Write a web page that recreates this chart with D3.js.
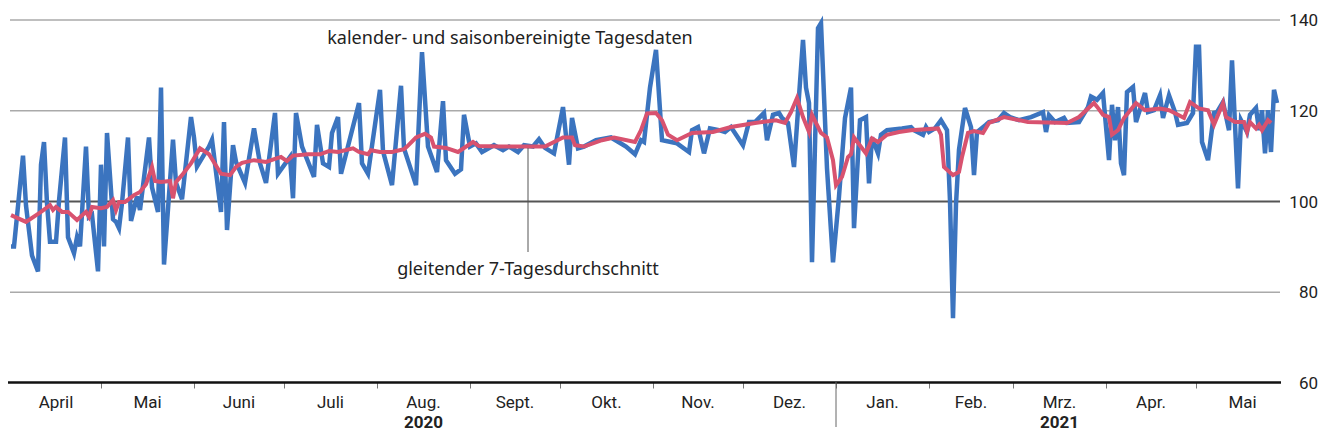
<!DOCTYPE html>
<html>
<head>
<meta charset="utf-8">
<title>Tagesdaten</title>
<script src="https://cdn.jsdelivr.net/npm/d3@7"></script>
<style>
  body { margin: 0; background: #fff; }
  svg { display: block; }
  .month, .yearlab, .ylab { font-family: "Liberation Sans Narrow", "Roboto", sans-serif; fill: #222; }
  .note { font-family: "Noto Sans", "Open Sans", sans-serif; fill: #222; }
</style>
</head>
<body>
<div id="chart"></div>
<script>
// daily series, day offset from 1 April 2020 (vertices)
var blueDay = [0,1,4,5,7,9,10,11,12,13,15,16,18,19,21,22,23,25,26,27,29,30,31,32,34,35,36,37,39,40,42,43,46,47,49,50,51,54,55,57,60,61,62,66,67,70,71,72,74,75,78,81,83,85,88,89,93,94,95,97,101,102,104,106,107,109,110,116,117,119,123,124,127,130,131,135,137,139,142,144,145,148,150,151,153,155,157,161,164,166,169,171,174,176,178,181,184,186,187,189,191,195,200,205,208,210,211,213,215,217,220,222,226,227,229,231,233,236,238,240,244,246,248,251,252,254,256,257,259,261,264,265,266,267,269,270,272,274,276,278,280,281,283,285,286,287,289,290,292,297,300,301,304,305,306,308,310,312,313,314,315,316,318,320,321,322,325,326,329,331,333,336,340,344,345,346,348,351,352,356,359,360,362,364,366,367,368,369,370,371,372,374,375,378,379,381,383,384,386,388,389,392,394,395,396,397,399,401,402,404,406,407,409,410,412,413,415,416,417,418,419,420,421,422];
var blueVal = [90,90,110,99,88,84.5,108,113,99.5,91,91,100,114,92,88.5,92,90,112,96.5,97,84.5,108,90,115,96,95.4,94,99.5,114,95.6,101,98,114,103,97.6,125,86,113.5,104,100.4,118.5,114,107.6,112,113.5,97.6,117.4,93.6,112.3,108.6,104,116,108.3,104,119.4,106,109.7,100.6,119.4,112,105.3,116.8,108.3,107.5,115,118.5,106,121.6,108.3,106,124.5,111,103.5,125.4,111.6,103.5,132.8,112,106.4,122,109,106,107,119,112,112.7,110.8,112.3,111.2,112,110.8,112.3,112,113.6,111.7,110.5,120.7,108,118.3,111.6,112,113.4,114,112,110.3,113.4,113,125,133.3,113.4,113,112.7,110.8,115.6,116.3,110.5,116,115.6,115.2,116.3,112.3,117.4,117.4,119.4,113.4,119,119.4,118.3,117.2,107.5,135.5,125,121.6,86.5,138.1,139.2,107.2,86.5,101,118.3,125,94,117.8,118.5,103.9,114,110.5,114.6,115.6,116,116.3,115.6,114.6,116.3,115.2,116,117.8,115.6,100,74.2,99.3,111.3,120.5,116.3,105.7,115.2,116.8,117.4,117.8,119.4,118.5,117.8,118.5,119.6,115.2,118.9,117.4,118.3,117.2,117.4,120.7,123,122.3,123.8,109,121.2,113.4,120.7,108.3,105.7,124,125.1,117.4,123.8,119.6,120,123.3,118.3,123.3,119.6,116.8,117.2,119.4,134,134,113,109,119.4,119.6,121.8,115.6,131,102.8,117.8,115.2,119,120.5,115.6,120,110.5,120,110.8,124.5,121.6];

// 7-day moving average
var redDay = [0,5,10,13,14,15,17,19,22,25,26,27,30,32,34,35,36,38,41,43,45,47,48,50,53,54,55,57,60,63,66,70,73,75,77,81,85,89,90,92,94,99,103,106,109,114,116,119,120,123,127,131,132,135,138,140,141,145,149,154,156,163,170,178,184,187,188,191,197,201,208,210,212,215,217,219,222,227,234,240,248,255,258,260,262,264,266,267,270,272,274,275,277,279,280,281,285,287,289,292,296,300,309,310,311,314,316,317,319,321,324,326,331,339,352,356,361,362,364,366,367,369,371,375,378,383,386,389,391,393,396,399,401,404,405,408,411,412,413,415,416,417,419,420];
var redVal = [96.9,95.4,97.6,99.1,98,98.7,97.6,97.6,95.8,97.6,96.5,98.7,98.4,98.7,100.2,98,99.8,99.8,101.3,102,103.7,107.5,104.4,104.2,104.4,100.6,104.2,105.7,108.3,111.6,110.3,106,105.7,107.5,108.4,109,108.6,109.5,109.7,108.8,110,110.3,110.3,111,110.8,111.6,110.8,110.3,111.2,110.8,110.8,111.4,112,114,114.8,114,112,111.7,110.8,113,112.1,112,112,112,114,114,112.3,112,113.4,114,113,115.6,119.3,119.4,117.8,114.6,113.4,115,115.2,116.3,117.2,117.8,117.2,119.6,122.7,118.5,115.2,119,115,114,109,103.5,105.3,109.7,110.3,114,110.5,113.8,113,114.6,115.2,115.6,116,114.6,107.5,105.7,106.4,109.7,115,115.4,115,117.2,118.5,117.4,117.2,118.5,121.6,120.8,119,118.5,114.6,115.6,118.3,121.6,120,120.4,120,119,118.3,121.8,120.4,120,116.8,121.6,118.5,117.4,117.4,115.2,117.4,116,116.8,115.6,117.8,117.2];

var yTicks = [60, 80, 100, 120, 140];
var monthNames = ["April","Mai","Juni","Juli","Aug.","Sept.","Okt.","Nov.","Dez.","Jan.","Feb.","Mrz.","Apr.","Mai"];
var yearLabels = [{year: "2020", month: 4}, {year: "2021", month: 11}];

var width = 1321, height = 446;
var start = new Date(2020, 3, 1);
var end = d3.timeDay.offset(start, 423);

var x = d3.scaleTime().domain([start, end]).range([11, 1280]);
var y = d3.scaleLinear().domain([60, 140]).range([382.5, 19.5]);

function toDate(d) { return d3.timeDay.offset(start, d); }
var blue = blueDay.map(function(d, i){ return {date: toDate(d), value: blueVal[i]}; });
var red = redDay.map(function(d, i){ return {date: toDate(d), value: redVal[i]}; });

var svg = d3.select("#chart").append("svg")
  .attr("width", width)
  .attr("height", height);

// gridlines
var grid = svg.append("g")
  .attr("transform", "translate(10,0)")
  .call(d3.axisRight(y).tickValues([80, 100, 120, 140]).tickSize(1270).tickFormat(""));
grid.select(".domain").remove();
grid.selectAll("line")
  .attr("stroke", function(d){ return d == 100 ? "#555" : "#aaa"; })
  .attr("stroke-width", function(d){ return d == 100 ? 2 : 1.5; });

// right axis labels
var yax = svg.append("g")
  .attr("transform", "translate(1318,0)")
  .call(d3.axisRight(y).tickValues(yTicks).tickSize(0).tickPadding(0));
yax.select(".domain").remove();
yax.selectAll("text")
  .attr("class", "ylab")
  .attr("text-anchor", "end")
  .attr("font-size", 17)
  .attr("dy", "0.36em");

// month ticks
var monthStarts = d3.timeMonth.range(new Date(2020, 4, 1), new Date(2021, 5, 1));
var xax = svg.append("g")
  .attr("transform", "translate(0,382.5)")
  .call(d3.axisBottom(x).tickValues(monthStarts).tickSize(6).tickFormat(""));
xax.select(".domain").remove();
xax.selectAll("line").attr("stroke", "#777").attr("stroke-width", 1);

// baseline
svg.append("line")
  .attr("x1", 8).attr("x2", 1281)
  .attr("y1", y(60)).attr("y2", y(60))
  .attr("stroke", "#111").attr("stroke-width", 2.5);

// year separator
svg.append("line")
  .attr("x1", x(new Date(2021, 0, 1))).attr("x2", x(new Date(2021, 0, 1)))
  .attr("y1", 382).attr("y2", 427)
  .attr("stroke", "#666").attr("stroke-width", 1);

// month labels
var months = d3.timeMonth.range(new Date(2020, 3, 1), new Date(2021, 5, 1));
svg.selectAll("text.month")
  .data(months)
  .enter().append("text")
  .attr("class", "month")
  .attr("x", function(d){ return (x(d) + x(d3.timeMonth.offset(d, 1))) / 2; })
  .attr("y", 408)
  .attr("text-anchor", "middle")
  .attr("font-size", 17)
  .text(function(d, i){ return monthNames[i]; });

svg.selectAll("text.yearlab")
  .data(yearLabels)
  .enter().append("text")
  .attr("class", "yearlab")
  .attr("x", function(d){ var m = months[d.month]; return (x(m) + x(d3.timeMonth.offset(m, 1))) / 2; })
  .attr("y", 428)
  .attr("text-anchor", "middle")
  .attr("font-size", 17)
  .attr("font-weight", "bold")
  .text(function(d){ return d.year; });

// lines
var line = d3.line()
  .x(function(d){ return x(d.date); })
  .y(function(d){ return y(d.value); });

svg.append("path")
  .datum(blue)
  .attr("fill", "none")
  .attr("stroke", "#3b74bf")
  .attr("stroke-width", 4.5)
  .attr("d", line);

svg.append("path")
  .datum(red)
  .attr("fill", "none")
  .attr("stroke", "#d8526f")
  .attr("stroke-width", 4)
  .attr("d", line);

// annotations
svg.append("text")
  .attr("class", "note")
  .attr("x", 510).attr("y", 44)
  .attr("text-anchor", "middle")
  .attr("font-size", 18)
  .text("kalender- und saisonbereinigte Tagesdaten");

svg.append("line")
  .attr("x1", 528).attr("x2", 528)
  .attr("y1", 148).attr("y2", 252)
  .attr("stroke", "#555").attr("stroke-width", 1);

svg.append("text")
  .attr("class", "note")
  .attr("x", 528).attr("y", 275)
  .attr("text-anchor", "middle")
  .attr("font-size", 18)
  .text("gleitender 7-Tagesdurchschnitt");
</script>
</body>
</html>
